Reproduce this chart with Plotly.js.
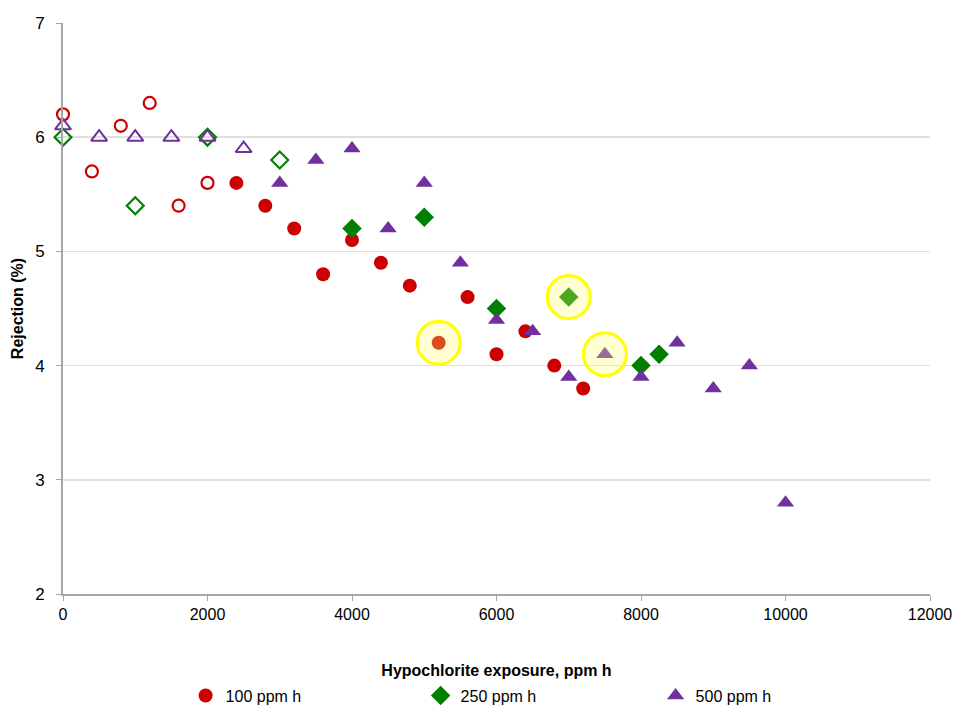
<!DOCTYPE html>
<html>
<head>
<meta charset="utf-8">
<script src="https://cdn.plot.ly/plotly-3.0.1.min.js"></script>
<style>html,body{margin:0;padding:0;background:#fff;}#chart{width:960px;height:715px;}</style>
</head>
<body>
<div id="chart"></div>
<script>
// 100 ppm h
const x100Open = [0, 400, 800, 1200, 1600, 2000];
const y100Open = [6.2, 5.7, 6.1, 6.3, 5.4, 5.6];
const x100 = [2400, 2800, 3200, 3600, 4000, 4400, 4800, 5200, 5600, 6000, 6400, 6800, 7200];
const y100 = [5.6, 5.4, 5.2, 4.8, 5.1, 4.9, 4.7, 4.2, 4.6, 4.1, 4.3, 4.0, 3.8];
// 250 ppm h
const x250Open = [0, 1000, 2000, 3000];
const y250Open = [6.0, 5.4, 6.0, 5.8];
const x250 = [4000, 5000, 6000, 7000, 8000, 8250];
const y250 = [5.2, 5.3, 4.5, 4.6, 4.0, 4.1];
// 500 ppm h
const x500Open = [0, 500, 1000, 1500, 2000, 2500];
const y500Open = [6.1, 6.0, 6.0, 6.0, 6.0, 5.9];
const x500 = [3000, 3500, 4000, 4500, 5000, 5500, 6000, 6500, 7000, 7500, 8000, 8500, 9000, 9500, 10000];
const y500 = [5.6, 5.8, 5.9, 5.2, 5.6, 4.9, 4.4, 4.3, 3.9, 4.1, 3.9, 4.2, 3.8, 4.0, 2.8];
// highlighted points
const xHighlight = [5200, 7000, 7500];
const yHighlight = [4.2, 4.6, 4.1];
const seriesNames = ["100 ppm h", "250 ppm h", "500 ppm h"];

const red = "#cc0000", green = "#008000", purple = "#7030a0";

const traces = [
  {x: x100Open, y: y100Open, mode: "markers", type: "scatter", showlegend: false, cliponaxis: false,
   marker: {symbol: "circle-open", size: 12, color: red, line: {width: 2.2, color: red}}},
  {x: x250Open, y: y250Open, mode: "markers", type: "scatter", showlegend: false, cliponaxis: false,
   marker: {symbol: "diamond-open", size: 13, color: green, line: {width: 2.2, color: green}}},
  {x: x500Open, y: y500Open, mode: "markers", type: "scatter", showlegend: false, cliponaxis: false,
   marker: {symbol: "triangle-up-open", size: 14, color: purple, line: {width: 2, color: purple}}},
  {x: x100, y: y100, name: seriesNames[0], mode: "markers", type: "scatter",
   marker: {symbol: "circle", size: 14, color: red}},
  {x: x250, y: y250, name: seriesNames[1], mode: "markers", type: "scatter",
   marker: {symbol: "diamond", size: 15, color: green}},
  {x: x500, y: y500, name: seriesNames[2], mode: "markers", type: "scatter",
   marker: {symbol: "triangle-up", size: 15, color: purple}},
  {x: xHighlight, y: yHighlight, mode: "markers", type: "scatter", showlegend: false, hoverinfo: "skip",
   marker: {symbol: "circle", size: 43, color: "rgba(255,255,110,0.3)", line: {width: 3, color: "#ffff00"}}}
];

const fontFam = "Liberation Sans, Arial, sans-serif";
const layout = {
  width: 960, height: 715,
  margin: {l: 63, r: 30, t: 23, b: 121, autoexpand: false},
  paper_bgcolor: "#fff", plot_bgcolor: "#fff",
  font: {family: fontFam, size: 16, color: "#000"},
  xaxis: {
    range: [0, 12000], tickvals: [0, 2000, 4000, 6000, 8000, 10000, 12000], tickformat: "d",
    showgrid: false, zeroline: false, showline: true, linecolor: "#a6a6a6", linewidth: 2,
    ticks: "outside", ticklen: 5, tickcolor: "#a6a6a6", tickfont: {size: 16},
    title: {text: "<b>Hypochlorite exposure, ppm h</b>", font: {size: 16}, standoff: 43}
  },
  yaxis: {
    range: [2, 7], dtick: 1,
    showgrid: true, gridcolor: "#e0e0e0", gridwidth: 1.5, zeroline: false,
    showline: true, linecolor: "#a6a6a6", linewidth: 2,
    ticks: "outside", ticklen: 5, tickcolor: "#a6a6a6", tickfont: {size: 17},
    ticklabelstandoff: 8,
    title: {text: "<b>Rejection (%)</b>", font: {size: 16}, standoff: 8}
  },
  legend: {orientation: "h", x: 0.548, xanchor: "center", y: -0.178, yanchor: "middle",
           font: {size: 16}, itemwidth: 30, entrywidth: 190, entrywidthmode: "pixels"},
  showlegend: true
};

Plotly.newPlot("chart", traces, layout, {staticPlot: true});
</script>
</body>
</html>
